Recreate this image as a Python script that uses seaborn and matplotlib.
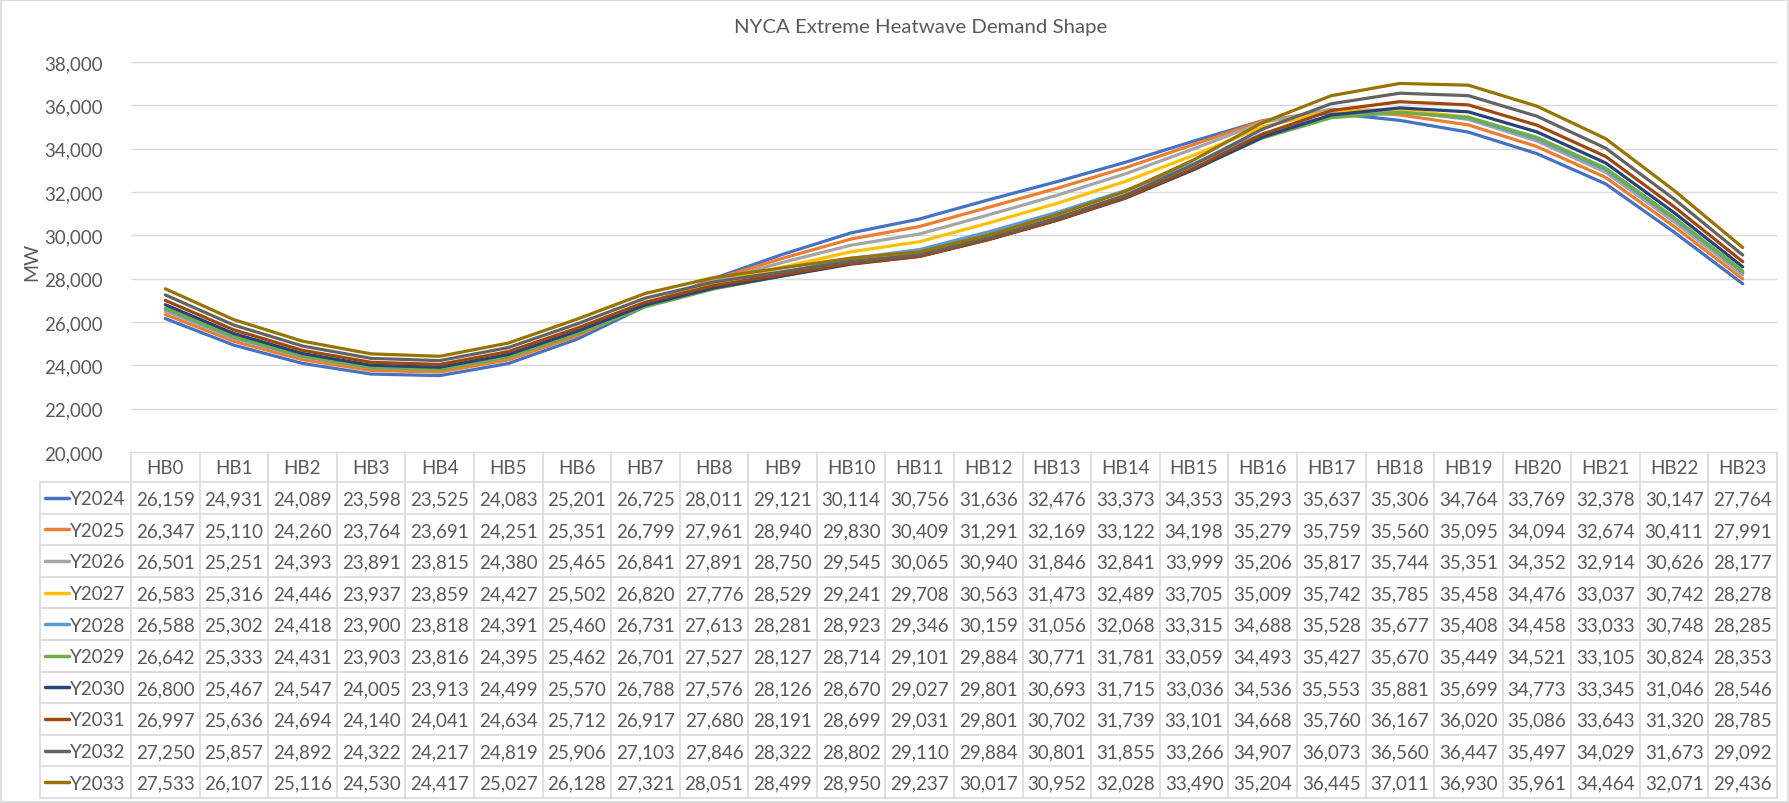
import numpy as np
import pandas as pd
import seaborn as sns
import matplotlib.pyplot as plt
from matplotlib.lines import Line2D
from matplotlib.patches import Rectangle

hours = [f"HB{i}" for i in range(24)]
years = ["Y2024", "Y2025", "Y2026", "Y2027", "Y2028",
         "Y2029", "Y2030", "Y2031", "Y2032", "Y2033"]

y2024 = [26159, 24931, 24089, 23598, 23525, 24083, 25201, 26725, 28011, 29121, 30114, 30756,
         31636, 32476, 33373, 34353, 35293, 35637, 35306, 34764, 33769, 32378, 30147, 27764]
y2025 = [26347, 25110, 24260, 23764, 23691, 24251, 25351, 26799, 27961, 28940, 29830, 30409,
         31291, 32169, 33122, 34198, 35279, 35759, 35560, 35095, 34094, 32674, 30411, 27991]
y2026 = [26501, 25251, 24393, 23891, 23815, 24380, 25465, 26841, 27891, 28750, 29545, 30065,
         30940, 31846, 32841, 33999, 35206, 35817, 35744, 35351, 34352, 32914, 30626, 28177]
y2027 = [26583, 25316, 24446, 23937, 23859, 24427, 25502, 26820, 27776, 28529, 29241, 29708,
         30563, 31473, 32489, 33705, 35009, 35742, 35785, 35458, 34476, 33037, 30742, 28278]
y2028 = [26588, 25302, 24418, 23900, 23818, 24391, 25460, 26731, 27613, 28281, 28923, 29346,
         30159, 31056, 32068, 33315, 34688, 35528, 35677, 35408, 34458, 33033, 30748, 28285]
y2029 = [26642, 25333, 24431, 23903, 23816, 24395, 25462, 26701, 27527, 28127, 28714, 29101,
         29884, 30771, 31781, 33059, 34493, 35427, 35670, 35449, 34521, 33105, 30824, 28353]
y2030 = [26800, 25467, 24547, 24005, 23913, 24499, 25570, 26788, 27576, 28126, 28670, 29027,
         29801, 30693, 31715, 33036, 34536, 35553, 35881, 35699, 34773, 33345, 31046, 28546]
y2031 = [26997, 25636, 24694, 24140, 24041, 24634, 25712, 26917, 27680, 28191, 28699, 29031,
         29801, 30702, 31739, 33101, 34668, 35760, 36167, 36020, 35086, 33643, 31320, 28785]
y2032 = [27250, 25857, 24892, 24322, 24217, 24819, 25906, 27103, 27846, 28322, 28802, 29110,
         29884, 30801, 31855, 33266, 34907, 36073, 36560, 36447, 35497, 34029, 31673, 29092]
y2033 = [27533, 26107, 25116, 24530, 24417, 25027, 26128, 27321, 28051, 28499, 28950, 29237,
         30017, 30952, 32028, 33490, 35204, 36445, 37011, 36930, 35961, 34464, 32071, 29436]

colors = ["#4472C4", "#ED7D31", "#A5A5A5", "#FFC000", "#5B9BD5",
          "#70AD47", "#264478", "#9E480E", "#636363", "#997300"]

series = [y2024, y2025, y2026, y2027, y2028, y2029, y2030, y2031, y2032, y2033]
df = pd.DataFrame({
    "hour": np.tile(np.arange(24), len(years)),
    "year": np.repeat(years, 24),
    "MW": np.concatenate(series),
})

sns.set_style("white")
plt.rcParams["font.family"] = ["Lato", "DejaVu Sans"]
text_color = "#595959"
grid_color = "#d9d9d9"

W, H = 1789, 804
fig = plt.figure(figsize=(W / 100, H / 100), dpi=100)

# pixel layout
left, right = 131, 1777
top, bottom = 63, 453
ax = fig.add_axes([left / W, 1 - bottom / H, (right - left) / W, (bottom - top) / H])
sns.lineplot(data=df, x="hour", y="MW", hue="year", palette=colors, ax=ax,
             linewidth=2.3, legend=False, sort=False)
ax.set_xlim(-0.5, 23.5)
ax.set_ylim(20000, 38000)
ax.set_yticks(np.arange(20000, 38001, 2000))
ax.set_yticklabels([f"{v:,}" for v in range(20000, 38001, 2000)],
                   fontsize=13.5, color=text_color)
ax.set_xticks([])
ax.set_xlabel("")
ax.set_ylabel("")
ax.tick_params(axis="y", length=0, pad=20)
ax.grid(axis="y", color=grid_color, linewidth=1)
for s in ax.spines.values():
    s.set_visible(False)
ax.set_axisbelow(True)

fig.text(32 / W, 1 - 262 / H, "MW", rotation=90, ha="center", va="center",
         fontsize=14, color=text_color)
fig.text(921 / W, 1 - 27 / H, "NYCA Extreme Heatwave Demand Shape", ha="center",
         va="center", fontsize=14.7, color=text_color)

# data table below plot
tab = fig.add_axes([0, 0, 1, 1], zorder=-1)
tab.set_xlim(0, W)
tab.set_ylim(H, 0)
tab.axis("off")
tab.add_patch(Rectangle((1, 1), W - 2, H - 2, fill=False, edgecolor=grid_color, lw=1.2))

col_w = (right - left) / 24
head_top, head_bot = 453, 483
row_h = (799 - head_bot) / len(years)
lab_left = 40

tab.plot([left, right], [head_top, head_top], color=grid_color, lw=1.2)
for k in range(len(years) + 1):
    yy = head_bot + k * row_h
    tab.plot([lab_left, right], [yy, yy], color=grid_color, lw=1.2)
tab.plot([lab_left, lab_left], [head_bot, head_bot + len(years) * row_h], color=grid_color, lw=1.2)
for i in range(25):
    xx = left + i * col_w
    tab.plot([xx, xx], [head_top, head_bot + len(years) * row_h], color=grid_color, lw=1.2)

for i, h in enumerate(hours):
    tab.text(left + (i + 0.5) * col_w, (head_top + head_bot) / 2 + 1, h,
             ha="center", va="center", fontsize=13.5, color=text_color)

for k, (name, vals, c) in enumerate(zip(years, series, colors)):
    yc = head_bot + (k + 0.5) * row_h + 1
    tab.add_line(Line2D([45, 69], [yc - 1, yc - 1], color=c, lw=2.5))
    tab.text(70, yc, name, ha="left", va="center", fontsize=13.5, color=text_color)
    for i, v in enumerate(vals):
        tab.text(left + (i + 0.5) * col_w, yc, f"{v:,}", ha="center", va="center",
                 fontsize=13.5, color=text_color)

fig.savefig("out.png", dpi=100)
plt.close(fig)
